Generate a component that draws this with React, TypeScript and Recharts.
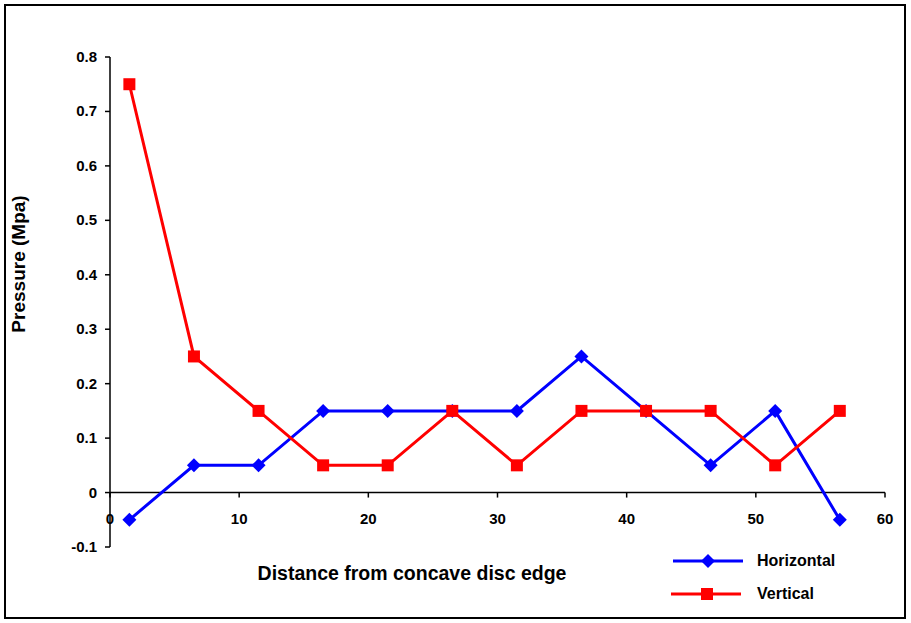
import { LineChart, Line, XAxis, YAxis, ReferenceLine } from "recharts";

const distance = [1.5, 6.5, 11.5, 16.5, 21.5, 26.5, 31.5, 36.5, 41.5, 46.5, 51.5, 56.5];
const horizontal = [-0.05, 0.05, 0.05, 0.15, 0.15, 0.15, 0.15, 0.25, 0.15, 0.05, 0.15, -0.05];
const vertical = [0.75, 0.25, 0.15, 0.05, 0.05, 0.15, 0.05, 0.15, 0.15, 0.15, 0.05, 0.15];
const xTicks = [0, 10, 20, 30, 40, 50, 60];
const yTicks = [-0.1, 0, 0.1, 0.2, 0.3, 0.4, 0.5, 0.6, 0.7, 0.8];

const data = distance.map((d, i) => ({ d, h: horizontal[i], v: vertical[i] }));

const font = "'Liberation Sans', Arial, sans-serif";
const W = 911;
const H = 623;
const TOP = 57;
const BOTTOM = 75;
const AXIS_H = 1;
const PLOT_H = H - TOP - BOTTOM - AXIS_H;
// y pixel of the zero line (x axis crosses there)
const ZERO_Y = TOP + (PLOT_H * 0.8) / 0.9;

const Diamond = (props: any) => {
  const { cx, cy } = props;
  if (cx == null || cy == null) return null;
  const r = 7;
  return <path d={`M${cx},${cy - r}L${cx + r},${cy}L${cx},${cy + r}L${cx - r},${cy}Z`} fill="#0000FF" />;
};

const Square = (props: any) => {
  const { cx, cy } = props;
  if (cx == null || cy == null) return null;
  return <rect x={cx - 6} y={cy - 6} width={12} height={12} fill="#FF0000" />;
};

const XTick = (props: any) => {
  const { x, payload } = props;
  return (
    <g>
      <line x1={x} x2={x} y1={ZERO_Y} y2={ZERO_Y + 5} stroke="#000" strokeWidth={1.5} />
      <text x={x} y={ZERO_Y + 31} textAnchor="middle" fontFamily={font} fontWeight="bold" fontSize={15} fill="#000">
        {payload.value}
      </text>
    </g>
  );
};

const YTick = (props: any) => {
  const { x, y, payload } = props;
  const v = payload.value as number;
  return (
    <text x={x} y={y + 5} textAnchor="end" fontFamily={font} fontWeight="bold" fontSize={15} fill="#000">
      {v === 0 ? "0" : v.toFixed(1)}
    </text>
  );
};

export default function App() {
  return (
    <div style={{ position: "fixed", left: 0, top: 0, width: W, height: H, background: "#fff", overflow: "hidden" }}>
      <LineChart width={W} height={H} data={data} margin={{ top: TOP, right: 26, bottom: BOTTOM, left: 50 }}>
        <XAxis
          dataKey="d"
          type="number"
          domain={[0, 60]}
          ticks={xTicks}
          interval={0}
          axisLine={false}
          tickLine={false}
          tick={<XTick />}
          height={AXIS_H}
        />
        <YAxis
          type="number"
          domain={[-0.1, 0.8]}
          ticks={yTicks}
          width={60}
          interval={0}
          tickSize={5}
          tickMargin={8}
          stroke="#000"
          strokeWidth={1.5}
          tick={<YTick />}
        />
        <ReferenceLine y={0} stroke="#000" strokeWidth={1.5} />
        <Line
          dataKey="h"
          name="Horizontal"
          stroke="#0000FF"
          strokeWidth={3}
          dot={<Diamond />}
          activeDot={false}
          isAnimationActive={false}
        />
        <Line
          dataKey="v"
          name="Vertical"
          stroke="#FF0000"
          strokeWidth={3}
          dot={<Square />}
          activeDot={false}
          isAnimationActive={false}
        />
        <text
          transform="translate(25,264) rotate(-90)"
          textAnchor="middle"
          fontFamily={font}
          fontWeight="bold"
          fontSize={19}
          fill="#000"
        >
          Pressure (Mpa)
        </text>
        <text x={412} y={580} textAnchor="middle" fontFamily={font} fontWeight="bold" fontSize={19.5} fill="#000">
          Distance from concave disc edge
        </text>
        <g>
          <line x1={673} x2={743} y1={561} y2={561} stroke="#0000FF" strokeWidth={3} />
          <Diamond cx={708} cy={561} />
          <text x={757} y={566} fontFamily={font} fontWeight="bold" fontSize={16} fill="#000">Horizontal</text>
          <line x1={671} x2={741} y1={594} y2={594} stroke="#FF0000" strokeWidth={3} />
          <Square cx={707} cy={594} />
          <text x={757} y={599} fontFamily={font} fontWeight="bold" fontSize={16} fill="#000">Vertical</text>
        </g>
      </LineChart>
      <svg
        width={W}
        height={H}
        style={{ position: "absolute", left: 0, top: 0, zIndex: 5, pointerEvents: "none" }}
      >
        <rect x={5} y={5} width={900} height={613} fill="none" stroke="#000" strokeWidth={2} />
      </svg>
    </div>
  );
}
